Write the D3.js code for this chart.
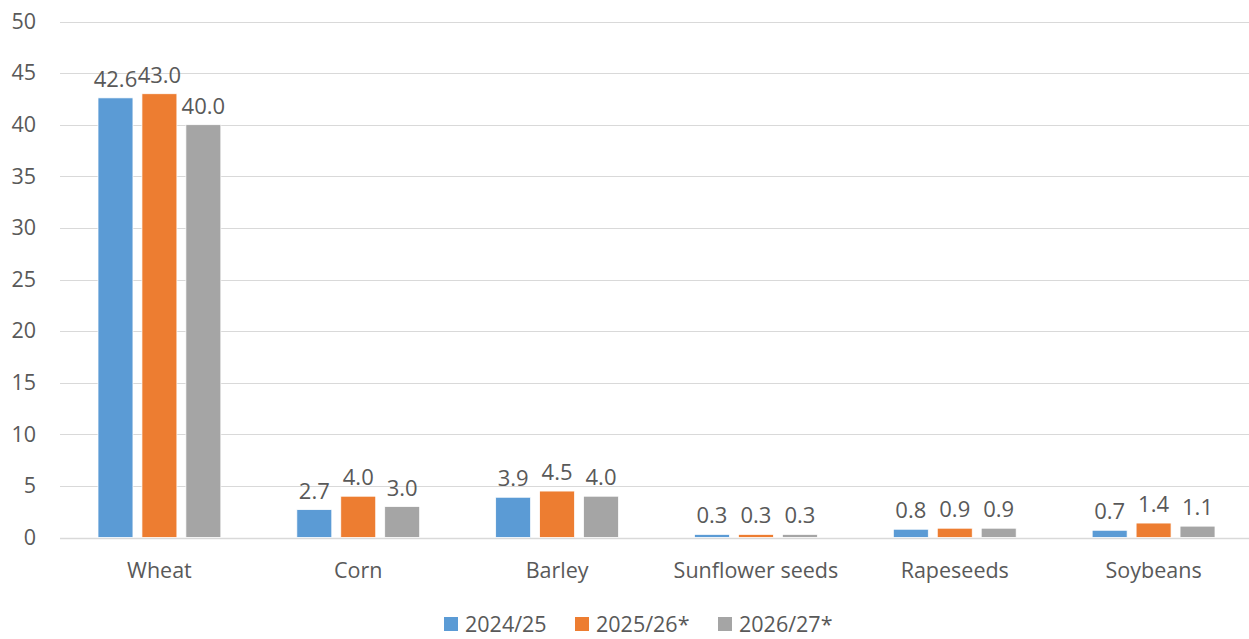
<!DOCTYPE html>
<html>
<head>
<meta charset="utf-8">
<script src="https://cdn.jsdelivr.net/npm/d3@7"></script>
<style>
  html, body { margin: 0; padding: 0; background: #fff; }
  svg { display: block; }
  text { font-family: "Open Sans", "Noto Sans", sans-serif; fill: #595959; }
</style>
</head>
<body>
<svg id="chart" width="1249" height="639"></svg>
<script>
const categories = ["Wheat", "Corn", "Barley", "Sunflower seeds", "Rapeseeds", "Soybeans"];
const seriesNames = ["2024/25", "2025/26*", "2026/27*"];
const values2024 = [42.6, 2.7, 3.9, 0.3, 0.8, 0.7];
const values2025 = [43.0, 4.0, 4.5, 0.3, 0.9, 1.4];
const values2026 = [40.0, 3.0, 4.0, 0.3, 0.9, 1.1];
const yTicks = [0, 5, 10, 15, 20, 25, 30, 35, 40, 45, 50];
const colors = ["#5B9BD5", "#ED7D31", "#A5A5A5"];

(function () {
const seriesValues = [values2024, values2025, values2026];
const svg = d3.select("#chart");
const plotLeft = 60, plotRight = 1253, plotTop = 21.5, plotBottom = 537.5;
const fs = "21.5px";

const y = d3.scaleLinear().domain([0, 50]).range([plotBottom, plotTop]);
const x0 = d3.scaleBand().domain(categories).range([plotLeft, plotRight]).padding(0);
const x1 = d3.scaleBand().domain(seriesNames).range([38, x0.bandwidth() - 38]).paddingInner(9 / 44).paddingOuter(0);

// gridlines
svg.append("g").selectAll("line").data(yTicks).join("line")
  .attr("x1", plotLeft).attr("x2", 1249)
  .attr("y1", d => Math.round(y(d)) + 0.5).attr("y2", d => Math.round(y(d)) + 0.5)
  .attr("stroke", "#D9D9D9").attr("stroke-width", d => d === 0 ? 1.5 : 1);

// y axis labels
const yAxis = d3.axisLeft(y).tickValues(yTicks).tickSize(0).tickPadding(0);
const yg = svg.append("g").attr("transform", "translate(36,0)").call(yAxis);
yg.select(".domain").remove();
yg.selectAll("text").style("font-size", fs).attr("fill", "#595959")
  .style("font-family", '"Open Sans", sans-serif');

// bars
const groups = svg.append("g").selectAll("g").data(categories).join("g")
  .attr("transform", d => `translate(${x0(d)},0)`);

groups.each(function (cat, ci) {
  const g = d3.select(this);
  seriesNames.forEach((s, si) => {
    const v = seriesValues[si][ci];
    g.append("rect")
      .attr("x", x1(s)).attr("width", x1.bandwidth())
      .attr("y", y(v)).attr("height", y(0) - y(v))
      .attr("fill", colors[si])
      .attr("stroke", "#fff").attr("stroke-width", 0.75);
    g.append("text")
      .attr("x", x1(s) + x1.bandwidth() / 2)
      .attr("y", y(v) - 11)
      .attr("text-anchor", "middle")
      .style("font-size", "22px")
      .text(v.toFixed(1));
  });
});

// x axis labels
const xAxis = d3.axisBottom(x0).tickSize(0).tickPadding(0);
const xg = svg.append("g").attr("transform", "translate(0,563)").call(xAxis);
xg.select(".domain").remove();
xg.selectAll("text").style("font-size", fs).attr("fill", "#595959")
  .style("font-family", '"Open Sans", sans-serif');

// legend
const legendX = [444, 575, 718];
const legend = svg.append("g").selectAll("g").data(seriesNames).join("g")
  .attr("transform", (d, i) => `translate(${legendX[i]},617)`);
legend.append("rect").attr("width", 14).attr("height", 14).attr("fill", (d, i) => colors[i]);
legend.append("text").attr("x", 21).attr("y", 15).style("font-size", fs).text(d => d);
})();
</script>
</body>
</html>
